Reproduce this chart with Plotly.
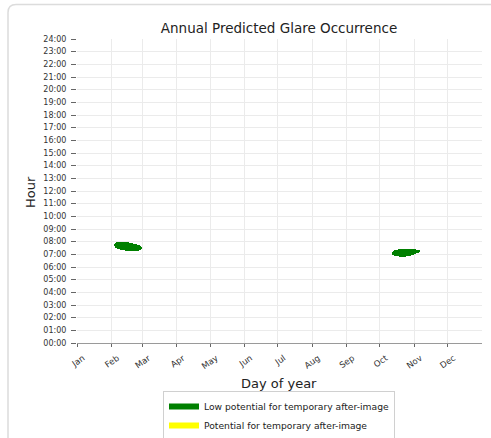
import plotly.graph_objects as go

# ---- data ----
month_labels = ["Jan", "Feb", "Mar", "Apr", "May", "Jun", "Jul", "Aug", "Sep", "Oct", "Nov", "Dec"]
month_start_days = [1, 32, 60, 91, 121, 152, 182, 213, 244, 274, 305, 335]
hour_ticks = list(range(0, 25))
hour_labels = [f"{h:02d}:00" for h in hour_ticks]

# glare occurrence: day of year, start hour, end hour (low potential, green)
feb_days = [35, 36, 37, 38, 39, 40, 41, 42, 43, 44, 45, 46, 47, 48, 49, 50, 51, 52, 53, 54, 55, 56, 57, 58, 59]
feb_start = [7.62, 7.52, 7.48, 7.45, 7.42, 7.40, 7.38, 7.36, 7.34, 7.32, 7.30, 7.29, 7.28, 7.27, 7.27, 7.26, 7.26, 7.26, 7.26, 7.27, 7.28, 7.30, 7.33, 7.37, 7.44]
feb_end = [7.85, 7.93, 7.97, 7.99, 8.00, 8.00, 8.00, 7.99, 7.98, 7.97, 7.96, 7.95, 7.94, 7.92, 7.90, 7.88, 7.86, 7.84, 7.82, 7.80, 7.77, 7.74, 7.70, 7.64, 7.56]

oct_days = [286, 287, 288, 289, 290, 291, 292, 293, 294, 295, 296, 297, 298, 299, 300, 301, 302, 303, 304, 305, 306, 307, 308, 309]
oct_start = [6.98, 6.92, 6.88, 6.86, 6.84, 6.83, 6.82, 6.81, 6.81, 6.81, 6.81, 6.82, 6.83, 6.85, 6.87, 6.89, 6.92, 6.95, 6.98, 7.01, 7.04, 7.08, 7.13, 7.19]
oct_end = [7.22, 7.30, 7.34, 7.36, 7.38, 7.39, 7.40, 7.41, 7.42, 7.42, 7.42, 7.42, 7.42, 7.42, 7.42, 7.42, 7.42, 7.41, 7.41, 7.40, 7.39, 7.37, 7.34, 7.29]

legend_names = ["Low potential for temporary after-image", "Potential for temporary after-image"]
legend_colors = ["#008000", "#ffff00"]

FONT = "DejaVu Sans"
W, H = 491, 438
ML, MR, MT, MB = 77, 9, 39, 95
PW, PH = W - ML - MR, H - MT - MB

days = feb_days + oct_days
starts = feb_start + oct_start
ends = feb_end + oct_end

fig = go.Figure()
fig.add_trace(go.Bar(
    x=days,
    base=starts,
    y=[e - s for s, e in zip(starts, ends)],
    width=1.0,
    marker=dict(color=legend_colors[0], line=dict(width=0)),
    showlegend=False,
    hoverinfo="skip",
))
for name, col in zip(legend_names, legend_colors):
    fig.add_trace(go.Scatter(
        x=[None], y=[None], mode="lines", name=name,
        line=dict(color=col, width=6),
    ))

def px_to_paper_x(px):
    return (px - ML) / PW

def px_to_paper_y(py):
    return (H - MB - py) / PH

# card border (rounded top-left corner)
lx, ty = px_to_paper_x(8), px_to_paper_y(4.5)
rx, by = px_to_paper_x(500), px_to_paper_y(450)
cx, cy = 8 / PW, 8 / PH
card_path = (f"M {lx},{by} L {lx},{ty - cy} Q {lx},{ty} {lx + cx},{ty} L {rx},{ty}")

fig.update_layout(
    width=W, height=H,
    margin=dict(l=ML, r=MR, t=MT, b=MB, autoexpand=False),
    paper_bgcolor="white",
    plot_bgcolor="white",
    font=dict(family=FONT, color="#222"),
    bargap=0,
    title=dict(text="Annual Predicted Glare Occurrence", x=px_to_paper_x(279), xref="paper",
               xanchor="center", yref="container", y=1 - 28 / H, yanchor="middle",
               font=dict(size=13.5, family=FONT, color="#222")),
    xaxis=dict(
        range=[1, 366],
        tickmode="array",
        tickvals=month_start_days,
        ticktext=month_labels,
        tickangle=-35,
        ticklabelshift=6,
        ticklabelstandoff=3,
        tickfont=dict(size=8.5, family=FONT, color="#333"),
        showgrid=True, gridcolor="#ebebeb", gridwidth=1,
        showline=True, linecolor="#9a9a9a", linewidth=1,
        ticks="outside", ticklen=3, tickcolor="#666",
        zeroline=False, automargin=False,
    ),
    yaxis=dict(
        range=[0, 24],
        tickmode="array",
        tickvals=hour_ticks,
        ticktext=hour_labels,
        tickfont=dict(size=8, family=FONT, color="#333"),
        ticklabelstandoff=3,
        showgrid=True, gridcolor="#ebebeb", gridwidth=1,
        showline=False,
        ticks="outside", ticklen=5, tickcolor="#666",
        zeroline=False, automargin=False,
    ),
    legend=dict(
        x=px_to_paper_x(163), xanchor="left",
        y=px_to_paper_y(391), yanchor="top",
        bordercolor="#d0d0d0", borderwidth=1,
        bgcolor="white",
        font=dict(size=9.2, family=FONT, color="#222"),
        itemwidth=30,
        tracegroupgap=0,
    ),
    annotations=[
        dict(text="Day of year", x=px_to_paper_x(279), y=px_to_paper_y(383), xref="paper", yref="paper",
             xanchor="center", yanchor="middle", showarrow=False,
             font=dict(size=13, family=FONT, color="#222")),
        dict(text="Hour", x=px_to_paper_x(30), y=px_to_paper_y(192), xref="paper", yref="paper",
             xanchor="center", yanchor="middle", showarrow=False, textangle=-90,
             font=dict(size=13, family=FONT, color="#222")),
    ],
    shapes=[dict(type="path", path=card_path, xref="paper", yref="paper",
                 line=dict(color="#dcdcdc", width=1.5), layer="below")],
)

fig.write_html("out.html", config={"displayModeBar": False},
               post_script="document.body.style.margin='0';document.body.style.overflow='hidden';")
